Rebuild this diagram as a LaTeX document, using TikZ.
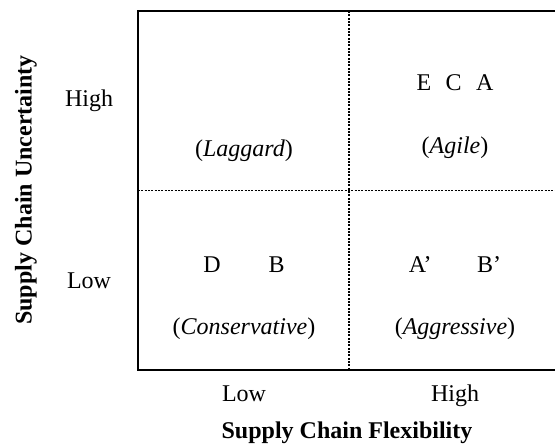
\documentclass[tikz,border=0pt]{standalone}
\usepackage{fontspec}
\setmainfont{Liberation Serif}
\begin{document}
\begin{tikzpicture}[x=0.75pt,y=-0.75pt,
  lbl/.style={font=\fontsize{18}{21}\selectfont, inner sep=0pt, anchor=base},
  ttl/.style={font=\fontsize{18}{21}\selectfont\bfseries, inner sep=0pt},
  frame/.style={line width=1.1pt},
  divider/.style={line width=1pt, dash pattern=on 1.6pt off 0.9pt}]
\useasboundingbox (0,0) rectangle (555,444);
% frame
\coordinate (tl) at (138,11);
\coordinate (bl) at (138,370);
\coordinate (tr) at (556,11);
\coordinate (br) at (556,370);
\draw[frame] (tr) -- (tl) -- (bl) -- (br);
% dividers
\coordinate (vt) at (349,11);
\coordinate (vb) at (349,370);
\coordinate (hl) at (138,190.5);
\coordinate (hr) at (556,190.5);
\draw[divider] (vt) -- (vb);
\draw[divider] (hl) -- (hr);
% axis labels
\node[lbl] (yhigh) at (89,106) {High};
\node[lbl] (ylow) at (89,288) {Low};
\node[lbl] (xlow) at (244,401) {Low};
\node[lbl] (xhigh) at (455,401) {High};
\node[ttl, rotate=90] (ytitle) at (26,190) {Supply Chain Uncertainty};
\node[ttl, anchor=base] (xtitle) at (347,438) {Supply Chain Flexibility};
% quadrant contents
\node[lbl] (lag) at (244,156) {(\textit{Laggard})};
\node[lbl] (eca) at (455,90) {E\hspace{0.6em}C\hspace{0.6em}A};
\node[lbl] (agile) at (455,153) {(\textit{Agile})};
\node[lbl] (db) at (244,272) {D\hspace{2em}B};
\node[lbl] (cons) at (244,334) {(\textit{Conservative})};
\node[lbl] (ab) at (455,272) {A’\hspace{1.9em}B’};
\node[lbl] (aggr) at (455,334) {(\textit{Aggressive})};
\end{tikzpicture}
\end{document}
